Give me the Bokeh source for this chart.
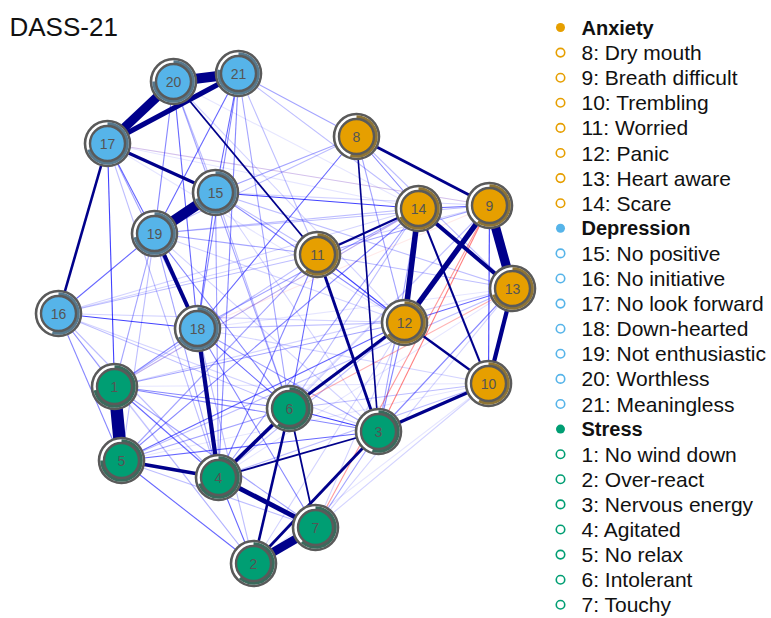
import numpy as np
from bokeh.plotting import figure
from bokeh.models import Range1d, ColumnDataSource
from bokeh.core.properties import value
from bokeh.embed import file_html
from bokeh.resources import INLINE

title = "DASS-21"

# ---- groups / legend ----
groups = ["Anxiety", "Depression", "Stress"]
group_colors = ["#E69F00", "#56B4E9", "#009E73"]
group_dark = ["#8E7434", "#56788C", "#3A6A5C"]
group_members = [[8, 9, 10, 11, 12, 13, 14],
                 [15, 16, 17, 18, 19, 20, 21],
                 [1, 2, 3, 4, 5, 6, 7]]
item_names = {1: "No wind down", 2: "Over-react", 3: "Nervous energy", 4: "Agitated",
              5: "No relax", 6: "Intolerant", 7: "Touchy", 8: "Dry mouth",
              9: "Breath difficult", 10: "Trembling", 11: "Worried", 12: "Panic",
              13: "Heart aware", 14: "Scare", 15: "No positive", 16: "No initiative",
              17: "No look forward", 18: "Down-hearted", 19: "Not enthusiastic",
              20: "Worthless", 21: "Meaningless"}

# ---- node layout (graph layout coordinates) ----
node_ids = list(range(1, 22))
layout_x = [114, 253, 378, 218, 121, 289, 315, 356, 489, 488, 317,
            404, 512, 418, 215, 58, 107, 197, 154, 173, 238]
layout_y = [232, 55, 187, 141, 158, 210, 91, 482, 413, 235, 364,
            296, 330, 410, 426, 305, 475, 290, 385, 537, 545]
# predictability (pie fraction)
node_pie = [0.72, 0.62, 0.55, 0.7, 0.75, 0.6, 0.62, 0.55, 0.6, 0.58, 0.6,
            0.65, 0.7, 0.68, 0.7, 0.55, 0.7, 0.68, 0.72, 0.75, 0.78]

# ---- edges (partial correlations) ----
edge_from = [20, 17, 17, 15, 17, 19, 18, 17, 1, 5, 4, 4, 2, 2, 2, 6, 11,
             14, 9, 14, 9, 8, 13, 3, 12, 14, 14, 20, 4, 6, 8,
             21, 21, 21, 21, 21, 21, 20, 20, 20, 17, 17, 17, 16, 16, 16, 16, 16,
             15, 15, 15, 15, 15, 18, 18, 18, 18, 18, 18, 19, 19, 19,
             8, 8, 8, 8, 8, 8, 11, 11, 11, 11, 11, 11, 11, 11,
             14, 14, 14, 14, 14, 12, 12, 12, 12, 12, 12, 9, 9, 9,
             13, 13, 13, 10, 10, 10, 3, 3, 3, 3, 1, 1, 1, 1, 5, 5, 5, 4,
             19, 19, 15, 17, 21, 21, 20, 16, 16, 16, 16, 16, 16,
             19, 19, 15, 15, 15, 17, 17, 17, 20, 20, 10, 10, 13, 9, 2, 7, 7, 7, 2,
             6, 6, 4,
             9, 13, 7, 17, 1, 18]
edge_to = [21, 20, 21, 19, 15, 18, 4, 16, 5, 4, 6, 7, 7, 6, 3, 12, 3,
           12, 12, 13, 13, 9, 10, 10, 10, 10, 11, 11, 3, 7, 3,
           15, 19, 18, 4, 8, 14, 18, 19, 15, 19, 1, 18, 19, 18, 5, 1, 4,
           14, 12, 18, 4, 13, 1, 6, 7, 2, 14, 3, 6, 5, 14,
           15, 19, 18, 14, 13, 12, 12, 6, 4, 5, 1, 9, 13, 19,
           9, 4, 5, 3, 1, 13, 3, 5, 1, 4, 18, 10, 19, 16,
           3, 1, 5, 4, 6, 18, 5, 6, 1, 7, 4, 6, 7, 2, 2, 6, 7, 2,
           4, 1, 6, 4, 6, 11, 6, 12, 11, 14, 3, 6, 2,
           12, 3, 3, 11, 9, 14, 9, 12, 14, 12, 1, 5, 18, 4, 12, 12, 13, 10, 10,
           14, 9, 13,
           3, 6, 9, 9, 14, 9]
edge_weight = [0.42, 0.38, 0.24, 0.42, 0.16, 0.19, 0.20, 0.14, 0.50, 0.17, 0.18, 0.22,
               0.36, 0.14, 0.15, 0.16, 0.15,
               0.25, 0.24, 0.19, 0.38, 0.15, 0.20, 0.16, 0.13, 0.12, 0.13, 0.11, 0.11,
               0.11, 0.105,
               0.08, 0.08, 0.07, 0.07, 0.06, 0.05, 0.08, 0.07, 0.05, 0.08, 0.09, 0.06,
               0.08, 0.09, 0.07, 0.06, 0.05,
               0.09, 0.07, 0.08, 0.06, 0.05, 0.07, 0.08, 0.07, 0.05, 0.06, 0.06,
               0.07, 0.05, 0.05,
               0.06, 0.05, 0.08, 0.07, 0.05, 0.06, 0.09, 0.08, 0.07, 0.06, 0.05, 0.06,
               0.05, 0.06,
               0.08, 0.06, 0.07, 0.06, 0.05, 0.08, 0.07, 0.08, 0.06, 0.05, 0.05,
               0.09, 0.05, 0.04,
               0.07, 0.04, 0.05, 0.05, 0.05, 0.04, 0.08, 0.09, 0.07, 0.06,
               0.08, 0.07, 0.06, 0.04, 0.08, 0.06, 0.05, 0.08,
               0.06, 0.06, 0.05, 0.05, 0.06, 0.05, 0.06, 0.04, 0.05, 0.04, 0.04,
               0.05, 0.04,
               0.04, 0.04, 0.04, 0.05, 0.04, 0.03, 0.04, 0.03, 0.03, 0.04, 0.03,
               0.03, 0.03, 0.03, 0.04, 0.04, 0.04, 0.04, 0.03,
               0.05, 0.04, 0.03,
               -0.08, -0.06, -0.07, -0.03, -0.03, -0.03]

CUT = 0.1
WMAX = 0.5

pos = {n: (x, y) for n, x, y in zip(node_ids, layout_x, layout_y)}
node_group = {}
for gi, mem in enumerate(group_members):
    for n in mem:
        node_group[n] = gi

p = figure(width=771, height=618, x_range=Range1d(0, 771), y_range=Range1d(0, 618),
           output_backend="svg", toolbar_location=None, min_border=0)
p.axis.visible = False
p.grid.visible = False
p.outline_line_color = None
p.background_fill_color = "white"

# edges, weakest first
order = sorted(range(len(edge_weight)), key=lambda i: abs(edge_weight[i]))
xs, ys, cols, alphas, widths = [], [], [], [], []
for i in order:
    a, b, w = edge_from[i], edge_to[i], edge_weight[i]
    xs.append([pos[a][0], pos[b][0]])
    ys.append([pos[a][1], pos[b][1]])
    aw = abs(w)
    if aw >= CUT:
        cols.append("#00008B" if w > 0 else "#B00000")
        alphas.append(1.0)
        widths.append(1.5 + (aw - CUT) / (WMAX - CUT) * 11)
    else:
        cols.append("#0000FF" if w > 0 else "#FF0000")
        alphas.append(max(0.1, (aw / CUT) ** 1.8) * (0.9 if w > 0 else 0.75))
        widths.append(1.1)
esrc = ColumnDataSource(dict(xs=xs, ys=ys, c=cols, a=alphas, w=widths))
p.multi_line("xs", "ys", source=esrc, line_color="c", line_alpha="a", line_width="w")

# nodes
fills = [group_colors[node_group[n]] for n in node_ids]
darks = [group_dark[node_group[n]] for n in node_ids]
starts = [np.pi / 2 - 2 * np.pi * f for f in node_pie]
ends = [np.pi / 2 for _ in node_pie]
nsrc = ColumnDataSource(dict(x=layout_x, y=layout_y, fill=fills, dark=darks,
                             s=starts, e=ends, lab=[str(n) for n in node_ids]))
p.circle("x", "y", radius=22.5, source=nsrc, fill_color="white",
         line_color="#5a5a5a", line_width=2.6)
p.annular_wedge("x", "y", inner_radius=17.5, outer_radius=21.3, start_angle="s",
                end_angle="e", source=nsrc, fill_color="dark", line_color=None)
p.circle("x", "y", radius=17.5, source=nsrc, fill_color="fill",
         line_color="#5a5a5a", line_width=2.4)
p.text("x", "y", text="lab", source=nsrc, text_align="center", text_baseline="middle",
       text_font=value("Liberation Sans"), text_font_size="14px", text_color="#555555")

# legend
leg_rows = []
for gi, g in enumerate(groups):
    leg_rows.append((g, gi, True))
    for n in group_members[gi]:
        leg_rows.append((f"{n}: {item_names[n]}", gi, False))
row_h = 25.1
top = 618 - 27
ly = [top - i * row_h for i in range(len(leg_rows))]
head = [r for r in zip(leg_rows, ly) if r[0][2]]
items = [r for r in zip(leg_rows, ly) if not r[0][2]]
p.scatter([560] * len(head), [y for _, y in head], size=9,
          fill_color=[group_colors[r[1]] for r, _ in head], line_color=None)
p.scatter([560] * len(items), [y for _, y in items], size=8.5, fill_color="white",
          line_width=1.6, line_color=[group_colors[r[1]] for r, _ in items])
p.text([581] * len(head), [y for _, y in head], text=[r[0] for r, _ in head],
       text_font=value("Liberation Sans"), text_font_size="20px", text_font_style="bold",
       text_baseline="middle", text_color="#111111")
p.text([581] * len(items), [y for _, y in items], text=[r[0] for r, _ in items],
       text_font=value("Liberation Sans"), text_font_size="21px",
       text_baseline="middle", text_color="#111111")

# title
p.text([9], [592], text=[title], text_font=value("Liberation Sans"),
       text_font_size="26px", text_baseline="middle", text_color="#111111")

open("out.html", "w").write(file_html(p, INLINE))
